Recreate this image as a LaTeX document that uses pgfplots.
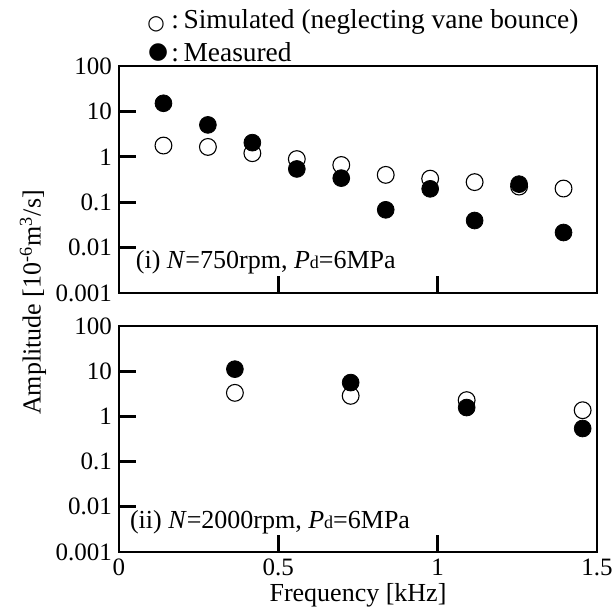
\documentclass[border=0pt]{standalone}
\usepackage{fontspec}
\setmainfont{Liberation Serif}
\newfontfamily\symfont{DejaVu Sans}
\usepackage{pgfplots}
\pgfplotsset{compat=1.18}

\pgfplotsset{
  /pgfplots/ampaxis/.style={
    scale only axis, width=239pt,
    xmin=0, xmax=1.5, ymin=0.001, ymax=100,
    xtick={0,0.5,1,1.5},
    ytick={0.001,0.01,0.1,1,10,100},
    yticklabels={0.001,0.01,0.1,1,10,100},
    yminorticks=false, xminorticks=false,
    tick align=inside, xtick pos=bottom, ytick pos=left,
    major tick length=8.5pt,
    axis line style={line width=1.35pt},
    every tick/.style={black, line width=1.35pt},
    tick label style={font=\fontsize{12.5}{14}\selectfont},
    /pgf/number format/assume math mode=true,
    clip=false,
  },
  /pgfplots/simpts/.style={only marks, mark=*, mark size=4.2pt,
    mark options={fill=white, draw=black, line width=0.55pt}},
  /pgfplots/measpts/.style={only marks, mark=*, mark size=4.2pt,
    mark options={fill=black, draw=black}},
}

\begin{document}
\begin{tikzpicture}[font=\fontsize{13}{15.6}\selectfont]

% (i) 750 rpm
\begin{semilogyaxis}[ampaxis, name=top, at={(0,0)}, anchor=north west,
    height=113.5pt, xticklabels={}]
\addplot[simpts]
  coordinates {(0.1395,1.77) (0.279,1.65) (0.4185,1.20) (0.558,0.89)
    (0.6975,0.66) (0.837,0.40) (0.9765,0.33) (1.116,0.277)
    (1.2555,0.221) (1.395,0.20)};
\addplot[measpts]
  coordinates {(0.1395,15.1) (0.279,5.04) (0.4185,2.05) (0.558,0.54)
    (0.6975,0.339) (0.837,0.068) (0.9765,0.197) (1.116,0.0395)
    (1.2555,0.25) (1.395,0.0215)};
\node[anchor=base west, inner sep=0pt] at (rel axis cs:0.0345,0.110)
  {(i) \textit{N}=750rpm, \textit{P}{\fontsize{9}{9}\selectfont d}=6MPa};
\end{semilogyaxis}

% (ii) 2000 rpm
\begin{semilogyaxis}[ampaxis, name=bot, at={(0,-130pt)}, anchor=north west,
    height=113pt,
    xlabel={Frequency [kHz]},
    xlabel style={at={(axis description cs:0.5,0)}, anchor=base, yshift=-24.85pt},
  ]
\addplot[simpts] coordinates {(0.3637,3.32) (0.727,2.85) (1.091,2.29) (1.455,1.37)};
\addplot[measpts] coordinates {(0.3637,11.1) (0.727,5.6) (1.091,1.57) (1.455,0.54)};
\node[anchor=base west, inner sep=0pt] at (rel axis cs:0.0222,0.106)
  {(ii) \textit{N}=2000rpm, \textit{P}{\fontsize{9}{9}\selectfont d}=6MPa};
\end{semilogyaxis}

% key above the upper panel
\node[inner sep=0pt] at (18.5pt,21pt) {\fontsize{10}{10}\symfont ○};
\node[anchor=base west, inner sep=0pt] at (26pt,18.5pt)
  {\fontsize{13.7}{16}\selectfont :\,Simulated (neglecting vane bounce)};
\node[inner sep=0pt] at (19.6pt,6.9pt) {\fontsize{11.5}{12}\symfont ●};
\node[anchor=base west, inner sep=0pt] at (26pt,2pt)
  {\fontsize{13.7}{16}\selectfont :\,Measured};

\node[rotate=90, anchor=base] at (-39.15pt,-118.25pt)
  {Amplitude [10\textsuperscript{-6}m\textsuperscript{3}/s]};

\pgfresetboundingbox
\useasboundingbox (-59.5pt,33pt) rectangle (248.5pt,-272pt);
\end{tikzpicture}
\end{document}
